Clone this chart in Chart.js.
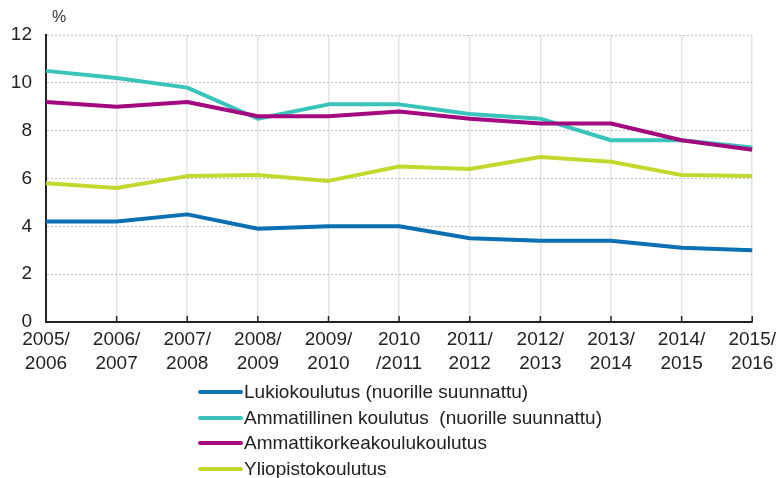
<!DOCTYPE html>
<html>
<head>
<meta charset="utf-8">
<script src="https://cdn.jsdelivr.net/npm/chart.js@4/dist/chart.umd.min.js"></script>
<style>
    html, body { margin: 0; padding: 0; background: #fff; }
    #wrap { position: relative; width: 781px; height: 478px; }
    #unit { position: absolute; left: 52px; top: 8px; font: 16px "Liberation Sans", Arial, sans-serif; color: #333; }
    #legend { position: absolute; left: 198px; top: 379px; font: 19px "Liberation Sans", Arial, sans-serif; color: #222; }
    .row { height: 25.7px; display: flex; align-items: center; white-space: pre; }
    .swatch { width: 45px; height: 4px; margin-right: 1px; border-radius: 2px; }
</style>
</head>
<body>
<div id="wrap">
    <canvas id="chart" width="781" height="478"></canvas>
    <div id="unit">%</div>
    <div id="legend"></div>
</div>
<script>
// Chart data
const categories = [
    ['2005/', '2006'], ['2006/', '2007'], ['2007/', '2008'], ['2008/', '2009'],
    ['2009/', '2010'], ['2010', '/2011'], ['2011/', '2012'], ['2012/', '2013'],
    ['2013/', '2014'], ['2014/', '2015'], ['2015/', '2016']
];
const seriesNames = [
    'Lukiokoulutus (nuorille suunnattu)',
    'Ammatillinen koulutus  (nuorille suunnattu)',
    'Ammattikorkeakoulukoulutus',
    'Yliopistokoulutus'
];
const lukio = [4.2, 4.2, 4.5, 3.9, 4.0, 4.0, 3.5, 3.4, 3.4, 3.1, 3.0];
const ammatillinen = [10.5, 10.2, 9.8, 8.5, 9.1, 9.1, 8.7, 8.5, 7.6, 7.6, 7.3];
const amk = [9.2, 9.0, 9.2, 8.6, 8.6, 8.8, 8.5, 8.3, 8.3, 7.6, 7.2];
const yliopisto = [5.8, 5.6, 6.1, 6.15, 5.9, 6.5, 6.4, 6.9, 6.7, 6.15, 6.1];
const colors = ['#0a70b2', '#38c4ba', '#a3087f', '#c3d82e'];
const drawOrder = [1, 3, 2, 4];

const fontFamily = '"Liberation Sans", Arial, sans-serif';

// Small tick marks pointing up into the plot area
const innerTicks = {
    id: 'innerTicks',
    afterDraw(chart) {
        const x = chart.scales.x;
        const ctx = chart.ctx;
        ctx.save();
        ctx.strokeStyle = '#222';
        ctx.lineWidth = 1.5;
        x.ticks.forEach((t, i) => {
            const px = x.getPixelForTick(i);
            ctx.beginPath();
            ctx.moveTo(px, chart.chartArea.bottom);
            ctx.lineTo(px, chart.chartArea.bottom - 6);
            ctx.stroke();
        });
        ctx.restore();
    }
};

const allSeries = [lukio, ammatillinen, amk, yliopisto];

new Chart(document.getElementById('chart'), {
    type: 'line',
    data: {
        labels: categories,
        datasets: allSeries.map((values, i) => ({
            label: seriesNames[i],
            data: values,
            borderColor: colors[i],
            backgroundColor: colors[i],
            borderWidth: 4,
            pointRadius: 0,
            tension: 0,
            borderJoinStyle: 'round',
            order: drawOrder[i]
        }))
    },
    options: {
        responsive: false,
        animation: false,
        layout: { padding: { top: 35, right: 25, left: 0, bottom: 96 } },
        plugins: {
            legend: { display: false },
            tooltip: { enabled: false }
        },
        scales: {
            x: {
                offset: false,
                grid: { color: '#e4e4e4', lineWidth: 1.5, drawTicks: false },
                border: { color: '#222', width: 2 },
                ticks: {
                    color: '#222',
                    padding: 5,
                    maxRotation: 0,
                    autoSkip: false,
                    font: { family: fontFamily, size: 19, lineHeight: 1.3 }
                },
                afterFit(scale) { scale.height = 60; }
            },
            y: {
                min: 0,
                max: 12,
                ticks: {
                    stepSize: 2,
                    color: '#222',
                    padding: 14,
                    font: { family: fontFamily, size: 19 }
                },
                grid: { color: '#cdbcc6', lineWidth: 1, drawTicks: false },
                border: { color: '#222', width: 2, dash: [2, 2] },
                afterFit(scale) { scale.width = 46; }
            }
        }
    },
    plugins: [innerTicks]
});

// Legend built from the same arrays
document.getElementById('legend').innerHTML = seriesNames.map((name, i) => `
    <div class="row"><span class="swatch" style="background:${colors[i]}"></span>${name}</div>
`).join('');
</script>
</body>
</html>
